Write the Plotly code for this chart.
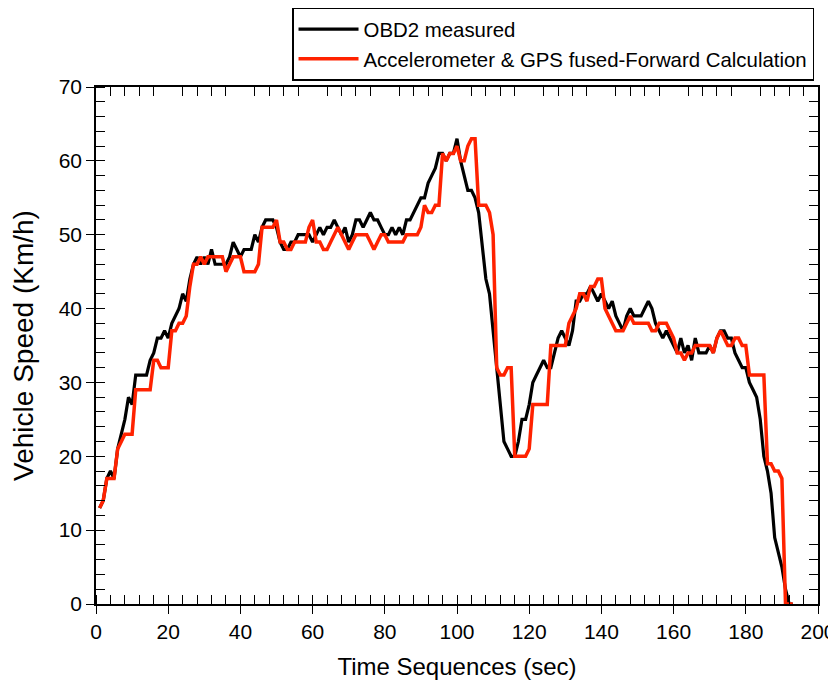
import plotly.graph_objects as go

time_sec = list(range(1, 194))

obd2_measured = [
    13, 14, 17, 18, 17, 21, 23, 25, 28, 27,
    31, 31, 31, 31, 33, 34, 36, 36, 37, 36,
    38, 39, 40, 42, 41, 44, 46, 47, 46, 47,
    46, 48, 46, 46, 46, 46, 47, 49, 48, 47,
    48, 48, 48, 50, 49, 51, 52, 52, 52, 51,
    49, 48, 48, 49, 49, 50, 50, 50, 50, 49,
    50, 51, 50, 51, 51, 52, 51, 50, 51, 49,
    50, 52, 52, 51, 52, 53, 52, 52, 51, 50,
    50, 51, 50, 51, 50, 52, 52, 53, 54, 55,
    55, 57, 58, 59, 61, 61, 60, 61, 61, 63,
    60, 58, 56, 56, 55, 53, 48, 44, 42, 37,
    31, 27, 22, 21, 20, 20, 22, 25, 25, 27,
    30, 31, 32, 33, 32, 32, 34, 36, 37, 36,
    35, 37, 41, 41, 42, 42, 43, 42, 41, 42,
    41, 40, 41, 39, 38, 37, 39, 40, 39, 39,
    39, 40, 41, 40, 38, 37, 36, 37, 36, 35,
    34, 36, 34, 35, 33, 36, 34, 34, 34, 35,
    34, 36, 37, 37, 36, 36, 34, 33, 32, 32,
    30, 29, 28, 25, 20, 18, 15, 9, 7, 5,
    2, 0, 0,
]

fused_forward = [
    13, 14, 17, 17, 17, 21, 22, 23, 23, 23,
    29, 29, 29, 29, 29, 33, 33, 32, 32, 32,
    37, 37, 38, 38, 39, 43, 46, 46, 47, 46,
    47, 47, 47, 47, 47, 45, 46, 47, 47, 47,
    45, 45, 45, 45, 46, 51, 51, 51, 51, 52,
    49, 49, 48, 48, 49, 49, 49, 49, 51, 52,
    49, 49, 48, 48, 49, 50, 51, 50, 49, 48,
    49, 50, 50, 50, 50, 49, 48, 49, 50, 50,
    49, 49, 49, 49, 49, 50, 50, 50, 50, 51,
    54, 53, 53, 54, 54, 61, 60, 61, 61, 62,
    60, 60, 62, 63, 63, 54, 54, 54, 53, 50,
    32, 31, 31, 32, 32, 20, 20, 20, 20, 21,
    27, 27, 27, 27, 27, 35, 35, 35, 35, 35,
    38, 39, 40, 42, 42, 41, 43, 43, 44, 44,
    40, 39, 38, 37, 37, 37, 38, 39, 38, 38,
    38, 38, 38, 37, 37, 38, 38, 38, 37, 36,
    34, 34, 33, 34, 34, 35, 35, 35, 35, 35,
    34, 36, 37, 36, 35, 35, 36, 36, 35, 35,
    31, 31, 31, 31, 31, 19, 19, 18, 18, 17,
    0, 0, 0,
]

series_names = ["OBD2 measured", "Accelerometer & GPS fused-Forward Calculation"]
x_ticks = [0, 20, 40, 60, 80, 100, 120, 140, 160, 180, 200]
y_ticks = [0, 10, 20, 30, 40, 50, 60, 70]
x_minor_ticks = [v for v in range(0, 201, 4) if v % 20]
y_minor_ticks = [v for v in range(0, 71, 2) if v % 10]

FONT = "Liberation Sans, Arial, sans-serif"

fig = go.Figure()
fig.add_trace(go.Scatter(x=time_sec, y=obd2_measured, mode="lines",
                         name=series_names[0],
                         line=dict(color="#000000", width=3.2)))
fig.add_trace(go.Scatter(x=time_sec, y=fused_forward, mode="lines",
                         name=series_names[1],
                         line=dict(color="#ff2200", width=3.5)))
# invisible copy bound to the mirror axes so that their inside ticks get drawn
fig.add_trace(go.Scatter(x=time_sec, y=obd2_measured, mode="lines",
                         xaxis="x2", yaxis="y2", showlegend=False,
                         hoverinfo="skip", line=dict(color="rgba(0,0,0,0)", width=0)))

minor_x = dict(ticks="inside", dtick=4, tick0=0, ticklen=9,
               tickwidth=1.2, tickcolor="black", showgrid=False)
minor_y = dict(ticks="inside", dtick=2, tick0=0, ticklen=9,
               tickwidth=1.2, tickcolor="black", showgrid=False)

fig.update_layout(
    width=836, height=690,
    margin=dict(l=88, r=26, t=79, b=94, autoexpand=False),
    paper_bgcolor="white", plot_bgcolor="white",
    font=dict(family=FONT, color="black"),
    xaxis=dict(range=[0, 200], tickvals=x_ticks, ticks="outside", ticklen=8,
               tickwidth=1.3, tickcolor="black", minor=minor_x,
               tickfont=dict(size=21), automargin=False,
               title=dict(text="Time Sequences (sec)", font=dict(size=24), standoff=16),
               showgrid=False, zeroline=False, showline=True,
               linecolor="black", linewidth=1.5, mirror=True),
    yaxis=dict(range=[0, 70], tickvals=y_ticks, ticks="outside", ticklen=8,
               tickwidth=1.3, tickcolor="black", minor=minor_y,
               tickfont=dict(size=21), automargin=False,
               title=dict(text="Vehicle Speed (Km/h)", font=dict(size=28), standoff=20),
               showgrid=False, zeroline=False, showline=True,
               linecolor="black", linewidth=1.5, mirror=True),
    xaxis2=dict(range=[0, 200], overlaying="x", side="top", anchor="y",
                showgrid=False, zeroline=False, showline=False,
                tickvals=x_minor_ticks, ticks="inside", ticklen=9,
                tickwidth=1.2, tickcolor="black", showticklabels=False,
                automargin=False),
    yaxis2=dict(range=[0, 70], overlaying="y", side="right", anchor="x",
                showgrid=False, zeroline=False, showline=False,
                tickvals=y_minor_ticks, ticks="inside", ticklen=9,
                tickwidth=1.2, tickcolor="black", showticklabels=False,
                automargin=False),
    legend=dict(x=0.2715, y=1.153, xanchor="left", yanchor="top",
                bordercolor="black", borderwidth=1.5, bgcolor="white",
                font=dict(size=20.4), tracegroupgap=0, itemwidth=60),
    showlegend=True,
)

fig.write_html("out.html")
